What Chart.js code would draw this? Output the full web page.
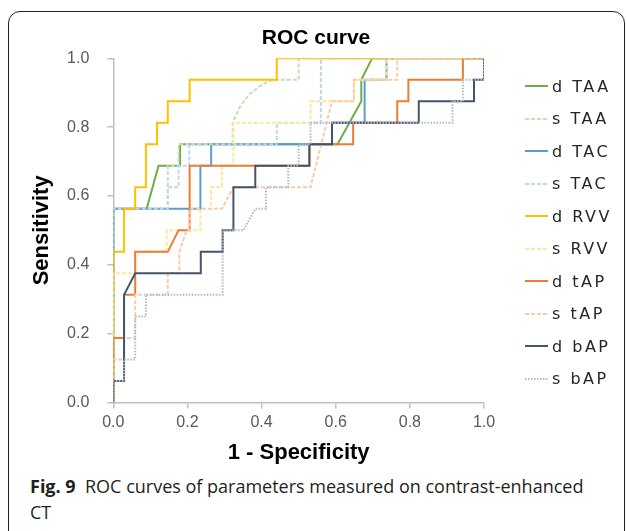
<!DOCTYPE html>
<html>
<head>
<meta charset="utf-8">
<script src="https://cdn.jsdelivr.net/npm/chart.js@4.4.1/dist/chart.umd.min.js"></script>
<style>
  html, body { margin: 0; padding: 0; background: #fff; }
  body { width: 627px; height: 531px; position: relative; overflow: hidden; }
  .frame { position: absolute; left: 8px; top: 11px; width: 615px; height: 540px; border: 1px solid #222; border-radius: 12px; }
  #wrap { position: absolute; left: 0; top: 0; width: 627px; height: 470px; }
  #legend { position: absolute; left: 525px; top: 70px; font-family: 'DejaVu Sans', sans-serif; font-size: 16px; letter-spacing: 2.5px; color: #262626; }
  #legend .row { display: flex; align-items: center; height: 32.5px; }
  #legend canvas { margin-right: 4px; }
  .caption { position: absolute; left: 30px; top: 473px; font-family: 'Open Sans', sans-serif; font-size: 18px; line-height: 26px; color: #231f20; }
  .caption b { font-weight: 700; }
</style>
</head>
<body>
<div class="frame"></div>
<div id="wrap"><canvas id="roc" width="627" height="470"></canvas></div>
<div id="legend"></div>
<div class="caption"><b>Fig. 9</b>&nbsp; ROC curves of parameters measured on contrast-enhanced<br>CT</div>
<script>
// ── DATA: [1 - specificity, sensitivity] ──
const dTAA = [[0,0],[0,0.5625],[0.09,0.5625],[0.122,0.6875],[0.18,0.6875],[0.18,0.75],[0.605,0.75],[0.669,0.875],[0.669,0.9375],[0.698,1],[1,1]];
const sTAA = [[0,0],[0,0.5625],[0.147,0.5625],[0.147,0.6875],[0.176,0.6875],[0.176,0.75],[0.322,0.75],[0.322,0.8125],[0.342,0.86],[0.365,0.893],[0.392,0.917],[0.419,0.934],[0.441,0.9375],[0.5,0.9375],[0.5,1],[1,1]];
const dTAC = [[0,0],[0,0.5625],[0.235,0.5625],[0.235,0.6875],[0.264,0.6875],[0.264,0.75],[0.59,0.75],[0.59,0.8125],[0.678,0.8125],[0.678,0.9375],[0.737,0.9375],[0.737,1],[1,1]];
const sTAC = [[0,0],[0,0.5625],[0.147,0.5625],[0.147,0.625],[0.176,0.625],[0.176,0.6875],[0.205,0.6875],[0.205,0.75],[0.441,0.75],[0.441,0.8125],[0.56,0.8125],[0.56,1],[1,1]];
const dRVV = [[0,0],[0,0.4375],[0.029,0.4375],[0.029,0.5625],[0.059,0.5625],[0.059,0.625],[0.088,0.625],[0.088,0.75],[0.118,0.75],[0.118,0.8125],[0.147,0.8125],[0.147,0.875],[0.206,0.875],[0.206,0.9375],[0.441,0.9375],[0.441,1],[1,1]];
const sRVV = [[0,0],[0,0.375],[0.059,0.375],[0.059,0.4375],[0.144,0.4375],[0.144,0.5],[0.235,0.5],[0.235,0.5625],[0.264,0.5625],[0.264,0.625],[0.293,0.625],[0.293,0.6875],[0.324,0.6875],[0.324,0.8125],[0.532,0.8125],[0.532,0.875],[0.649,0.875],[0.649,0.9375],[0.737,0.9375],[0.737,1],[1,1]];
const dtAP = [[0,0],[0,0.1875],[0.029,0.1875],[0.029,0.3125],[0.059,0.3125],[0.059,0.4375],[0.147,0.4375],[0.176,0.5],[0.206,0.5],[0.206,0.6875],[0.529,0.6875],[0.529,0.75],[0.647,0.75],[0.647,0.8125],[0.766,0.8125],[0.766,0.875],[0.796,0.875],[0.796,0.9375],[0.943,0.9375],[0.943,1],[1,1]];
const stAP = [[0,0],[0,0.125],[0.029,0.125],[0.029,0.1875],[0.059,0.1875],[0.059,0.3125],[0.147,0.3125],[0.147,0.375],[0.178,0.375],[0.178,0.4375],[0.198,0.5],[0.206,0.5],[0.206,0.5625],[0.293,0.5625],[0.324,0.625],[0.532,0.625],[0.59,0.875],[0.649,0.875],[0.649,0.9375],[0.766,0.9375],[0.766,1],[1,1]];
const dbAP = [[0,0],[0,0.0625],[0.029,0.0625],[0.029,0.3125],[0.059,0.375],[0.236,0.375],[0.236,0.4375],[0.295,0.4375],[0.295,0.5],[0.324,0.5],[0.324,0.625],[0.383,0.625],[0.383,0.6875],[0.529,0.6875],[0.529,0.75],[0.59,0.75],[0.59,0.8125],[0.824,0.8125],[0.824,0.875],[0.973,0.875],[0.973,0.9375],[1,0.9375],[1,1]];
const sbAP = [[0,0],[0,0.0625],[0.029,0.0625],[0.029,0.125],[0.059,0.125],[0.059,0.25],[0.088,0.25],[0.088,0.3125],[0.295,0.3125],[0.295,0.5],[0.351,0.5],[0.383,0.5625],[0.412,0.5625],[0.412,0.625],[0.472,0.625],[0.472,0.6875],[0.5,0.6875],[0.5,0.75],[0.532,0.75],[0.532,0.8125],[0.915,0.8125],[0.915,0.875],[0.943,0.875],[0.943,0.9375],[1,0.9375],[1,1]];

const seriesNames = ['d TAA', 's TAA', 'd TAC', 's TAC', 'd RVV', 's RVV', 'd tAP', 's tAP', 'd bAP', 's bAP'];
const seriesData = [dTAA, sTAA, dTAC, sTAC, dRVV, sRVV, dtAP, stAP, dbAP, sbAP];
const seriesColors = ['#70ad47', '#c5e0b4', '#5b9bd5', '#bdd7ee', '#ffc000', '#ffe699', '#ed7d31', '#f8cbad', '#44546a', '#adb9ca'];
const xTicks = [0, 0.2, 0.4, 0.6, 0.8, 1.0];
const yTicks = [0, 0.2, 0.4, 0.6, 0.8, 1.0];

const DASHED = [4, 2];
const DOTTED = [1.5, 1.5];
const CHART_FONT = "'Liberation Sans', Arial, sans-serif";
const AXIS_GRAY = '#bfbfbf';

const datasets = seriesNames.map((name, i) => ({
  label: name,
  data: seriesData[i].map(p => ({ x: p[0], y: p[1] })),
  borderColor: seriesColors[i],
  backgroundColor: seriesColors[i],
  borderWidth: 2,
  borderDash: i === 9 ? DOTTED : (i % 2 ? DASHED : []),
  showLine: true,
  fill: false,
  tension: 0,
  pointRadius: 0,
  pointHoverRadius: 0,
  xAxisID: 'x',
  yAxisID: 'y',
  order: seriesNames.length - i,   // later series on top, like the original
}));

const axisCommon = (ticks, title) => ({
  type: 'linear',
  min: 0,
  max: 1,
  afterBuildTicks: s => { s.ticks = ticks.map(v => ({ value: v })); },
  ticks: { callback: v => v.toFixed(1), color: '#595959', font: { family: CHART_FONT, size: 16 } },
  grid: { display: true, drawOnChartArea: false, drawTicks: true, tickLength: 6, color: AXIS_GRAY, lineWidth: 1.5 },
  border: { display: true, color: AXIS_GRAY, width: 1.5 },
  title: { display: true, text: title, color: '#000', font: { family: CHART_FONT, size: 22, weight: 'bold' } },
});

const xAxis = axisCommon(xTicks, '1 - Specificity');
xAxis.ticks.padding = 5;
xAxis.title.padding = { top: 7, bottom: 4 };
xAxis.afterFit = s => { s.height = 67.6; };
const yAxis = axisCommon(yTicks, 'Sensitivity');
yAxis.ticks.padding = 18;
yAxis.title.padding = { top: 24, bottom: 4 };
yAxis.afterFit = s => { s.width = 108.3; };

// empty right-hand axis only keeps room for the legend
const spacer = {
  type: 'linear', position: 'right', display: true,
  grid: { display: false }, border: { display: false },
  ticks: { display: false }, title: { display: false },
  afterFit: s => { s.width = 143; },
};

const chart = new Chart(document.getElementById('roc'), {
  type: 'scatter',
  data: { datasets },
  options: {
    responsive: false,
    animation: false,
    devicePixelRatio: 1,
    layout: { padding: { left: 5, right: 0, top: 0, bottom: 0 } },
    plugins: {
      legend: { display: false },
      tooltip: { enabled: false },
      title: {
        display: true,
        text: 'ROC curve',
        color: '#000',
        font: { family: CHART_FONT, size: 21, weight: 'bold' },
        padding: { top: 25.5, bottom: 7.6 },
      },
    },
    scales: { x: xAxis, y: yAxis, spacer },
  },
});

// ── LEGEND (html, built from the datasets) ──
const legendEl = document.getElementById('legend');
chart.data.datasets.forEach(ds => {
  const row = document.createElement('div');
  row.className = 'row';
  const sw = document.createElement('canvas');
  sw.width = 23; sw.height = 10;
  const c = sw.getContext('2d');
  c.strokeStyle = ds.borderColor;
  c.lineWidth = ds.borderWidth;
  c.setLineDash(ds.borderDash);
  c.beginPath(); c.moveTo(0, 5); c.lineTo(23, 5); c.stroke();
  const txt = document.createElement('span');
  txt.textContent = ds.label;
  row.appendChild(sw);
  row.appendChild(txt);
  legendEl.appendChild(row);
});
</script>
</body>
</html>
